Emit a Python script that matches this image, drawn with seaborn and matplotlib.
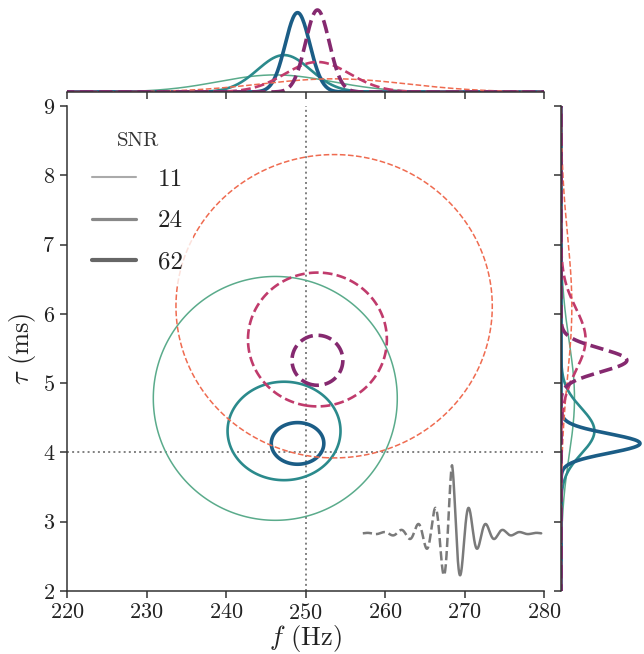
import numpy as np
import matplotlib
matplotlib.use("Agg")
import matplotlib.pyplot as plt
from matplotlib.lines import Line2D
import seaborn as sns

# Injected ringdown parameters (dotted guide lines and the inset waveform)
f_true = 250.0      # Hz
tau_true = 4.0      # ms

# Posterior summaries for each SNR: centre and width in (f, tau)
snr_labels = ["11", "24", "62"]

# solid family
solid_f_mean = [246.2, 247.3, 249.0]
solid_tau_mean = [4.78, 4.31, 4.13]
solid_f_sd = [7.15, 3.31, 1.54]
solid_tau_sd = [0.82, 0.331, 0.14]

# dashed family
dashed_f_mean = [253.6, 251.5, 251.5]
dashed_tau_mean = [6.11, 5.63, 5.33]
dashed_f_sd = [9.27, 4.07, 1.49]
dashed_tau_sd = [1.02, 0.45, 0.168]

solid_colors = ["#5aab8b", "#2b8a8c", "#1b5d86"]
dashed_colors = ["#ef6b50", "#c03b6c", "#85296f"]
widths = [1.1, 1.9, 2.6]
legend_grays = ["#aaaaaa", "#888888", "#666666"]

xticks = [220, 230, 240, 250, 260, 270, 280]
yticks = [2, 3, 4, 5, 6, 7, 8, 9]

sns.set_style("ticks")
plt.rcParams["font.family"] = "serif"
plt.rcParams["font.serif"] = ["cmr10"]
plt.rcParams["mathtext.fontset"] = "cm"
plt.rcParams["axes.formatter.use_mathtext"] = True
plt.rcParams["axes.edgecolor"] = "#333333"
plt.rcParams["xtick.color"] = "#333333"
plt.rcParams["ytick.color"] = "#333333"
plt.rcParams["xtick.major.size"] = 5
plt.rcParams["ytick.major.size"] = 5
plt.rcParams["xtick.major.width"] = 1.1
plt.rcParams["ytick.major.width"] = 1.1
plt.rcParams["axes.linewidth"] = 1.1

g = sns.JointGrid(height=6.44)
fig = g.figure
fig.set_size_inches(6.44, 6.54)
W, H = 644.0, 654.0

ax = g.ax_joint
axx = g.ax_marg_x
axy = g.ax_marg_y

# axes placement in pixels: left, top, right, bottom (measured from the top-left corner)
def place(a, x0, y0, x1, y1):
    a.set_position([x0 / W, (H - y1) / H, (x1 - x0) / W, (y1 - y0) / H])

place(ax, 67, 106, 544, 591)
place(axx, 67, 0, 544, 92)
place(axy, 561, 106, 644, 591)

fg = np.linspace(212, 288, 700)
tg = np.linspace(1.0, 10.0, 900)
F, T = np.meshgrid(fg, tg)
level90 = -2.0 * np.log(0.1)

def gauss(x, m, s):
    return np.exp(-0.5 * ((x - m) / s) ** 2) / (s * np.sqrt(2 * np.pi))

fam = [
    (solid_f_mean, solid_tau_mean, solid_f_sd, solid_tau_sd, solid_colors, "-"),
    (dashed_f_mean, dashed_tau_mean, dashed_f_sd, dashed_tau_sd, dashed_colors, "--"),
]

top_max = 0.0
right_max = 0.0
for fm, tm, fs, ts, cols, ls in fam:
    for i in range(3):
        d2 = ((F - fm[i]) / fs[i]) ** 2 + ((T - tm[i]) / ts[i]) ** 2
        ax.contour(F, T, d2, levels=[level90], colors=[cols[i]],
                   linewidths=widths[i], linestyles=ls)
        pf = gauss(fg, fm[i], fs[i])
        pt = gauss(tg, tm[i], ts[i])
        top_max = max(top_max, pf.max())
        right_max = max(right_max, pt.max())
        axx.plot(fg, pf, color=cols[i], lw=widths[i], ls=ls)
        axy.plot(pt, tg, color=cols[i], lw=widths[i], ls=ls)

ax.axvline(f_true, color="#808080", ls=":", lw=1.4, zorder=0)
ax.axhline(tau_true, color="#808080", ls=":", lw=1.4, zorder=0)

ax.set_xlim(220, 280)
ax.set_ylim(2, 9)
ax.set_xticks(xticks)
ax.set_yticks(yticks)
ax.tick_params(labelsize=16, colors="#333333", labelcolor="#222222")
ax.set_xlabel(r"$f$ (Hz)", fontsize=19, color="#222222", labelpad=0)
ax.set_ylabel(r"$\tau$ (ms)", fontsize=19, color="#222222", labelpad=3)

axx.set_ylim(0, top_max * 92 / 82)
axy.set_xlim(0, right_max * 83 / 79)
sns.despine(ax=ax)
sns.despine(ax=axx, left=True)
sns.despine(ax=axy, bottom=True)
axx.tick_params(axis="y", left=False, labelleft=False)
axy.tick_params(axis="x", bottom=False, labelbottom=False)
axx.tick_params(axis="x", labelbottom=False)
axy.tick_params(axis="y", labelleft=False)

handles = [Line2D([], [], color=legend_grays[i], lw=widths[i] + 0.4) for i in range(3)]
leg = ax.legend(handles, snr_labels, title="SNR", loc="upper left",
                bbox_to_anchor=(0.005, 0.993), fontsize=18, title_fontsize=15,
                frameon=True, framealpha=0.8, edgecolor="none", facecolor="white",
                handlelength=1.75, handletextpad=0.9, labelspacing=0.75)
for t in leg.get_texts():
    t.set_color("#222222")
leg.get_title().set_color("#333333")

# inset: waveform built from the injected frequency and damping time
ins = fig.add_axes([356 / W, (H - 580) / H, 192 / W, 120 / H])
ins.set_axis_off()
t_ms = np.linspace(-21, 21, 1500)
h = np.exp(-np.abs(t_ms) / tau_true) * np.cos(2 * np.pi * f_true * t_ms / 1000.0)
pre = t_ms <= 0
ins.plot(t_ms[pre], h[pre], color="#7a7a7a", lw=1.8, ls="--")
ins.plot(t_ms[~pre], h[~pre], color="#7a7a7a", lw=1.8)
ins.set_xlim(-22.6, 22.6)
ins.set_ylim(-0.683, 1.073)

fig.savefig("out.png", dpi=100)
